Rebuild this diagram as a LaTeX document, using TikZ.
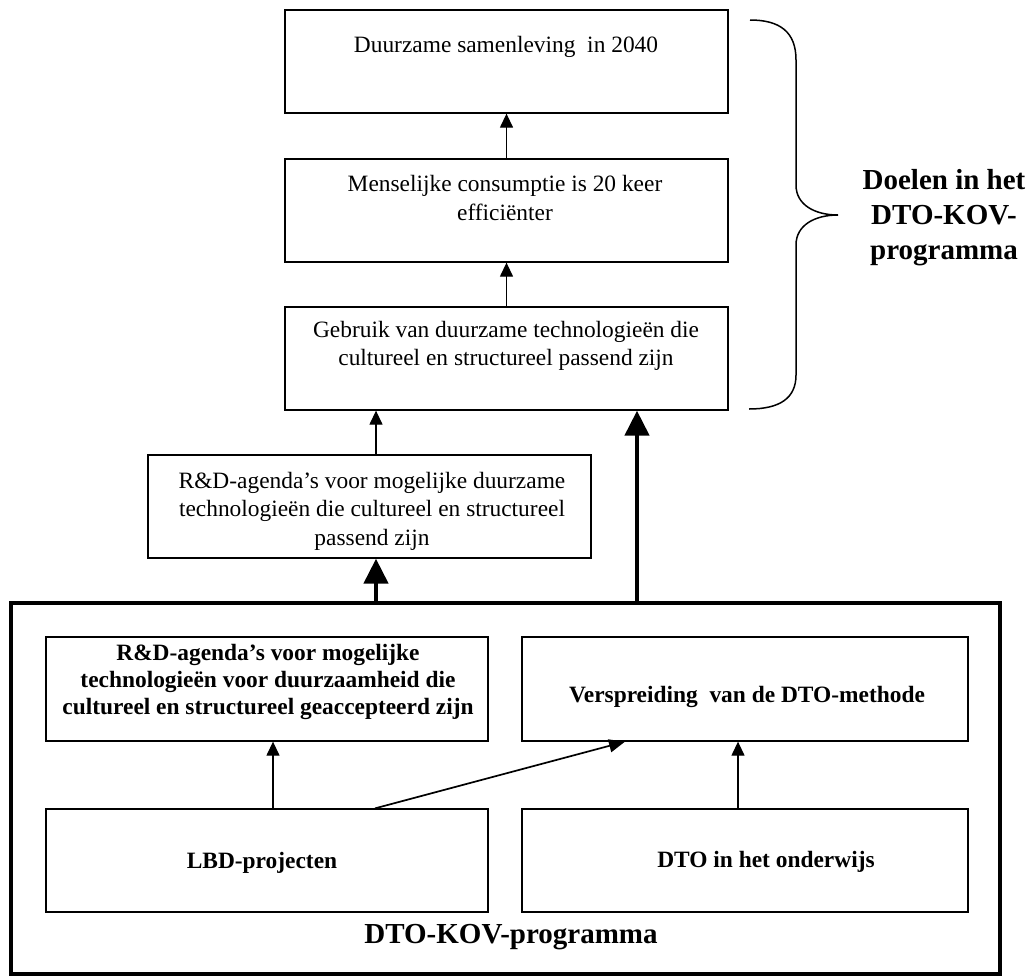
\documentclass[tikz,border=0pt]{standalone}
\usepackage{fontspec}
\setmainfont{Liberation Serif}
\usetikzlibrary{arrows.meta}
\begin{document}
\begin{tikzpicture}[x=1pt,y=-1pt,
  box/.style={draw, line width=1.3pt, rectangle, inner sep=0pt, minimum width=#1, minimum height=103pt},
  txt/.style={align=center, inner sep=0pt, font=\fontsize{23.4}{28.2}\selectfont},
  btxt/.style={align=center, inner sep=0pt, font=\bfseries\fontsize{23.4}{27}\selectfont},
  lbl/.style={align=center, inner sep=0pt, font=\bfseries\fontsize{29}{35}\selectfont},
  smallarrow/.style={line width=1.3pt, -{Triangle[length=14pt,width=13pt]}},
  diagarrow/.style={line width=1.7pt, -{Triangle[length=16pt,width=13pt]}},
  bigarrow/.style={line width=4.5pt, -{Triangle[length=25pt,width=24pt]}}
]
\useasboundingbox (0,0) rectangle (1032,977);

% goal boxes
\node[box=443pt] (b1) at (506.5,61.5) {};
\node[box=443pt] (b2) at (506.5,210.5) {};
\node[box=443pt] (b3) at (506.5,358.5) {};
\node[box=443pt] (b4) at (369.5,506.5) {};

\node[txt] (t1) at (506,46.5) {Duurzame samenleving\ \ in 2040};
\node[txt] (t2) at (505,198) {Menselijke consumptie is 20 keer\\efficiënter};
\node[txt] (t3) at (506,345.5) {Gebruik van duurzame technologieën die\\cultureel en structureel passend zijn};
\node[txt, font=\fontsize{23.4}{28.5}\selectfont] (t4) at (372,511) {R\&D-agenda’s voor mogelijke duurzame\\technologieën die cultureel en structureel\\passend zijn};

% programme box
\node[draw, line width=4.5pt, rectangle, inner sep=0pt, minimum width=989pt, minimum height=371pt] (big) at (505.5,788.5) {};

\node[box=442pt, minimum height=104pt] (rd) at (267,689) {};
\node[box=446pt, minimum height=104pt] (vs) at (745,689) {};
\node[box=442pt] (lbd) at (267,860.5) {};
\node[box=446pt] (dto) at (745,860.5) {};

\node[btxt] (trd) at (268,681.5) {R\&D-agenda’s voor mogelijke\\technologieën voor duurzaamheid die\\cultureel en structureel geaccepteerd zijn};
\node[btxt] (tvs) at (747,696.5) {Verspreiding\ \ van de DTO-methode};
\node[btxt] (tlbd) at (262,862.5) {LBD-projecten};
\node[btxt] (tdto) at (766,861.5) {DTO in het onderwijs};

\node[lbl] (prog) at (511,937) {DTO-KOV-programma};
\node[lbl] (doel) at (944,218) {Doelen in het\\DTO-KOV-\\programma};

% columns for connectors
\coordinate (colA) at (376,0);
\coordinate (colB) at (637,0);
\coordinate (colL) at (273,0);
\coordinate (colR) at (738,0);
\coordinate (dA) at (375,0);
\coordinate (dB) at (625,0);

% connectors
\draw[smallarrow] (b2.north) -- (b1.south);
\draw[smallarrow] (b3.north) -- (b2.south);
\draw[smallarrow] (b4.north -| colA) -- (b3.south -| colA);
\draw[bigarrow] (big.north -| colA) -- (b4.south -| colA);
\draw[bigarrow] (big.north -| colB) -- (b3.south -| colB);
\draw[smallarrow] (lbd.north -| colL) -- (rd.south -| colL);
\draw[smallarrow] (dto.north -| colR) -- (vs.south -| colR);
\draw[diagarrow] (lbd.north -| dA) -- (vs.south -| dB);

% brace
\draw[line width=1.5pt] (750,20) .. controls (780,20) and (796,32) .. (796,60)
  -- (796,185) .. controls (796,205) and (815,215) .. (838,215)
  .. controls (815,215) and (796,225) .. (796,245)
  -- (796,375) .. controls (796,398) and (780,409) .. (749,409);
\end{tikzpicture}
\end{document}
